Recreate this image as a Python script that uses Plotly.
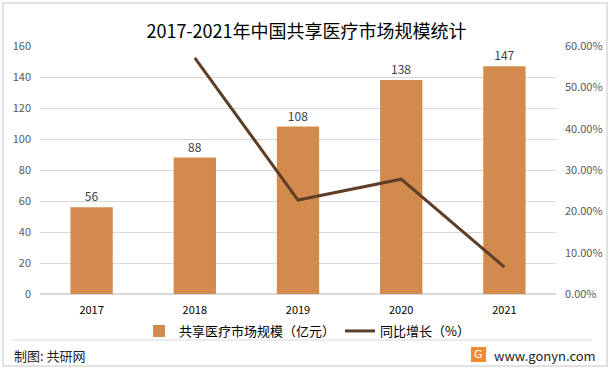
import plotly.graph_objects as go

years = ["2017", "2018", "2019", "2020", "2021"]
market_size = [56, 88, 108, 138, 147]
growth_pct = [None, 57.14, 22.73, 27.78, 6.52]

bar_color = "#D38B4D"
line_color = "#5E3E26"
font_family = "Microsoft YaHei, Noto Sans CJK SC, sans-serif"

PL, PR, PT, PB = 40, 556, 46, 294
PW, PH = PR - PL, PB - PT


def px(x):
    return (x - PL) / PW


def py(y):
    return (PB - y) / PH


fig = go.Figure()
fig.add_trace(go.Bar(
    x=years, y=market_size, name="共享医疗市场规模（亿元）",
    marker=dict(color=bar_color, line=dict(width=0)),
    text=[str(v) for v in market_size], textposition="outside",
    textfont=dict(size=12, color="#404040"), cliponaxis=False,
))
fig.add_trace(go.Scatter(
    x=years, y=growth_pct, name="同比增长（%）", yaxis="y2",
    mode="lines", line=dict(color=line_color, width=3),
))

fig.update_layout(
    width=613, height=372,
    margin=dict(l=PL, r=613 - PR, t=PT, b=372 - PB, autoexpand=False),
    paper_bgcolor="white", plot_bgcolor="white",
    font=dict(family=font_family, color="#595959", size=11),
    title=dict(text="2017-2021年中国共享医疗市场规模统计", x=0.5, xanchor="center",
               y=1 - 32 / 372, yanchor="middle",
               font=dict(size=18, color="#000000", family=font_family)),
    bargap=0.59,
    showlegend=True,
    legend=dict(orientation="h", x=px(139), xanchor="left", y=py(331), yanchor="middle",
                font=dict(size=13, color="#000000"), traceorder="normal",
                bgcolor="rgba(0,0,0,0)"),
    xaxis=dict(showline=False, ticks="", tickfont=dict(size=11, color="#000000"),
               showgrid=False, automargin=False, ticklabelstandoff=8),
    yaxis=dict(range=[0, 160], dtick=20, showgrid=True, gridcolor="#D9D9D9", gridwidth=1,
               zeroline=True, zerolinecolor="#D9D9D9", tickfont=dict(size=11, color="#595959"),
               ticklabelstandoff=8, automargin=False),
    yaxis2=dict(range=[0, 60], dtick=10, overlaying="y", side="right", showgrid=False,
                zeroline=False, ticksuffix=".00%", tickfont=dict(size=11, color="#595959"),
                ticklabelstandoff=8, automargin=False),
    shapes=[
        dict(type="rect", xref="paper", yref="paper", x0=px(3), x1=px(607),
             y0=py(366), y1=py(3), line=dict(color="#D9D9D9", width=1.5),
             fillcolor="rgba(0,0,0,0)", layer="below"),
        dict(type="line", xref="paper", yref="paper", x0=px(12), x1=px(592),
             y0=py(340), y1=py(340), line=dict(color="#D9D9D9", width=1)),
        dict(type="rect", xref="paper", yref="paper", x0=px(471), x1=px(486),
             y0=py(362), y1=py(347), fillcolor="#F08A2C",
             line=dict(width=0)),
    ],
    annotations=[
        dict(text="制图: 共研网", xref="paper", yref="paper", x=px(12), xanchor="left",
             y=py(355), yanchor="middle", showarrow=False,
             font=dict(size=13, color="#222222")),
        dict(text="G", xref="paper", yref="paper", x=px(478.5), xanchor="center",
             y=py(354.5), yanchor="middle", showarrow=False,
             font=dict(size=11, color="white", family="DejaVu Sans")),
        dict(text="www.gonyn.com", xref="paper", yref="paper", x=px(492), xanchor="left",
             y=py(355), yanchor="middle", showarrow=False,
             font=dict(size=13, color="#222222")),
    ],
)

fig.write_html("out.html", config={"displayModeBar": False},
               post_script="document.body.style.margin='0';document.body.style.overflow='hidden';")
